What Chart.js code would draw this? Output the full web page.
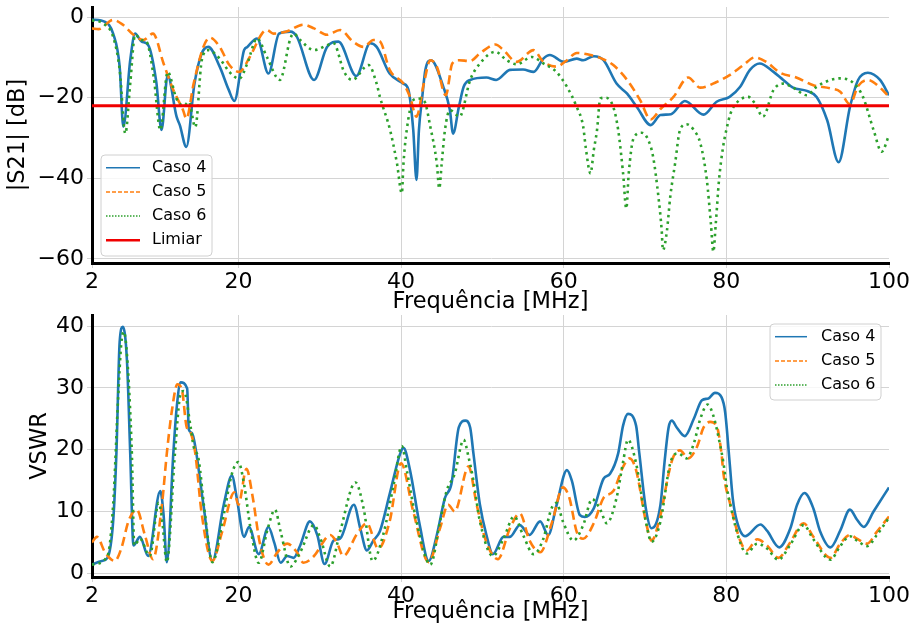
<!DOCTYPE html>
<html>
<head>
<meta charset="utf-8">
<script src="https://cdn.jsdelivr.net/npm/chart.js@4.4.0/dist/chart.umd.min.js"></script>
<style>
  body { margin: 0; background: #fff; }
  canvas { position: absolute; left: 0; }
  #s21 { top: 0; }
  #vswr { top: 314px; }
</style>
</head>
<body>
<canvas id="s21" width="913" height="314"></canvas>
<canvas id="vswr" width="913" height="314"></canvas>
<script>
// ticks
var xTicks = [2, 20, 40, 60, 80, 100];
var s21Ticks = [-60, -40, -20, 0];
var vswrTicks = [0, 10, 20, 30, 40];
var limiar = -22;

// |S21| [dB], [MHz, dB]
var s21Caso4 = [[2,-0.6],[3.6,-1.2],[4.6,-4.1],[5.4,-12.3],[5.85,-27.2],[6.7,-10.7],[7.3,-4.1],[8.1,-6.1],[8.9,-6.9],[9.9,-16],[10.55,-28],[11.3,-14.5],[12.4,-24.7],[12.8,-26.8],[13.6,-32.2],[14.6,-16.5],[15.5,-9],[16.3,-7.4],[17.7,-12.3],[18.8,-18],[19.5,-20.8],[20.7,-8.2],[21.1,-7.4],[22.3,-5.3],[23.7,-14],[25,-4.1],[26.4,-3.6],[27.2,-4.9],[29.3,-15.6],[30.9,-7.4],[32.3,-6.1],[34.5,-14.6],[36.2,-6.5],[37,-7.4],[38.6,-14],[40.3,-16.5],[40.9,-18],[41.5,-28],[41.9,-40.4],[42.2,-28],[42.6,-20],[43,-13],[43.7,-10.7],[45.2,-17.3],[46,-23],[46.4,-28.9],[47.1,-22.4],[47.7,-17.3],[48.5,-15.6],[50.5,-15],[51.7,-15.6],[53.4,-13.1],[55,-13],[56.3,-13.6],[57.5,-10.3],[58.3,-9.4],[60,-11.1],[61.6,-10.3],[62.4,-10.7],[63.7,-9.7],[64.9,-10.7],[66.5,-16.5],[67.8,-19],[69,-22.3],[70.7,-26.8],[71.9,-24.3],[73.2,-24.1],[74.9,-20.8],[77.2,-24.2],[78.8,-21],[80.4,-19.8],[81.7,-17.3],[82.9,-13.1],[84.1,-11.5],[85.8,-13.6],[87,-15.6],[88.2,-17.5],[89.9,-18.3],[91.1,-19.8],[92.4,-25.6],[93.8,-36],[95.2,-22.3],[96.2,-15.6],[97.4,-13.8],[98.9,-15.6],[100,-19.4]];
var s21Caso5 = [[2,-2.8],[2.8,-3],[4.6,-0.7],[5.8,-1.9],[7.1,-4.4],[8.3,-5.7],[9.5,-4.1],[10.8,-11.5],[12,-18.1],[13.2,-23.1],[13.6,-25.2],[14.5,-16.5],[15.7,-7.4],[16.5,-5.1],[17.7,-7.4],[18.9,-11.9],[20.1,-13.6],[21.4,-9.9],[22.9,-4.1],[23.5,-3.2],[24.3,-4.1],[25.9,-3.6],[28,-1.9],[29.3,-2.8],[30.9,-4.4],[32.5,-3.2],[34.1,-6.1],[35.4,-7.4],[36.6,-5.7],[37.4,-6],[38.6,-13.1],[40.3,-16.5],[41.1,-19.8],[41.9,-24.7],[42.8,-16.5],[43.6,-10.7],[44.4,-12.3],[45.5,-19.4],[46.3,-11.5],[47.1,-10.7],[48.5,-10.9],[49.7,-9],[51.6,-6.8],[52.6,-8.2],[54.2,-11.1],[56.3,-8.2],[57.5,-11.1],[59.1,-12.3],[60.4,-10.7],[61.6,-8.9],[63.3,-9.4],[64.9,-10.5],[66.1,-11.9],[67.8,-15.6],[69.4,-20.6],[70.7,-25.4],[71.9,-22.8],[73.5,-19.8],[75.3,-15],[76.8,-17.5],[78.8,-16.1],[80.4,-14.4],[82.1,-11.9],[83.5,-10],[84.9,-11.1],[86.6,-13.8],[88.6,-15],[90.7,-16.9],[92.8,-17.7],[94,-18.5],[95.2,-21.6],[96.2,-17.1],[97.4,-15.6],[98.9,-17.5],[100,-19.8]];
var s21Caso6 = [[2,-0.8],[3.4,-1.6],[4.6,-4.9],[5.4,-13],[6.1,-28.9],[6.7,-16.5],[7.3,-4.4],[8.1,-5.7],[8.7,-6.1],[9.6,-15],[10.4,-28],[11.3,-13.6],[12.4,-20.3],[13.3,-22],[13.9,-21],[14.7,-27.3],[15.5,-10.7],[16.3,-8.2],[17.7,-10.3],[18.9,-13.6],[20.1,-15.3],[21.1,-11.5],[22.3,-5.3],[23.5,-9.9],[25.1,-15.6],[26.4,-5.3],[26.8,-4.1],[27.6,-5.7],[29.3,-8.2],[30.9,-7],[31.7,-6.5],[33,-13.6],[34,-15.6],[36,-11.9],[37,-16.5],[37.4,-19.8],[38.65,-28],[39.5,-36.3],[40.1,-43.7],[40.3,-36.3],[40.7,-28],[41.5,-20.6],[42.1,-20.2],[42.9,-21],[43.6,-27.2],[44.4,-36.3],[44.7,-42.5],[45,-36.3],[45.4,-28],[46,-23.1],[47.2,-24.7],[48.5,-15.6],[49.7,-11.5],[51.6,-8.6],[53,-10.7],[54.2,-11.7],[56.1,-9.9],[57.5,-11.5],[59.1,-13.6],[60.4,-17.3],[61.6,-22.3],[62.4,-27.2],[62.7,-32.2],[63.3,-38.8],[63.7,-33],[64.1,-28],[64.5,-20.2],[65.2,-20],[66.1,-22.3],[66.7,-28],[67.3,-38.7],[67.7,-47.5],[68,-38.7],[68.6,-30],[69.6,-28.7],[70.4,-30.5],[71,-34.7],[71.65,-44.6],[72.05,-52.9],[72.2,-57.8],[72.7,-52.9],[73.1,-44.6],[73.7,-36.3],[74.3,-28],[75.1,-26.6],[76,-28],[76.8,-31.3],[77.6,-40.4],[78.1,-51.2],[78.4,-58.2],[78.7,-51.2],[79.1,-40.4],[79.6,-32.2],[80,-28],[80.5,-24],[81.2,-21.4],[82.7,-19.8],[83.5,-21.4],[84.5,-24.7],[85.8,-18.1],[87,-16.5],[88.2,-17.5],[89.9,-19.4],[91.1,-17.3],[92.8,-15.6],[94,-15.2],[95.6,-16.3],[96.8,-19.8],[98.1,-28],[99.1,-33.4],[100,-29.3]];

// VSWR, [MHz, VSWR]
var vswrCaso4 = [[2,1.4],[3.2,2],[3.9,2.5],[4.6,8.4],[5,19.4],[5.4,37.4],[5.8,39.9],[6.3,34.4],[6.7,19.4],[7.1,4.5],[7.9,5.9],[8.9,2.8],[10.4,13.3],[10.8,9.5],[11.2,1.8],[12,19.4],[12.4,26.6],[12.9,30.9],[13.7,29.9],[13.9,23.3],[14.3,22.7],[14.7,20.5],[15.7,11.1],[16.8,2],[18.2,11.1],[19.2,15.8],[19.8,12.2],[20.7,5.9],[21.3,7.5],[22.5,3.1],[23.7,7.5],[24.4,5],[25.2,1.7],[26,2.8],[26.8,2.5],[27.6,4.5],[28.8,8.4],[29.7,6.2],[30.6,1.5],[31.7,5.3],[32.5,5.6],[34.2,11.1],[35,7.2],[35.8,3.7],[36.6,5.3],[37.4,6.8],[38.6,12.8],[39.9,19.4],[40.3,20.3],[41.1,16.7],[42.3,7.8],[43.4,2],[44.4,6.2],[45.4,12.2],[46.2,14.5],[47.1,23.6],[47.9,24.7],[48.5,23.6],[48.9,19.4],[49.7,11.1],[50.5,6.2],[51.3,3.1],[52.6,5.9],[53.4,5.9],[54.6,7.8],[55.8,6.2],[57.1,8.4],[58.1,6.2],[59.1,10.9],[60.4,16.7],[61,15],[62,9.4],[62.6,9.1],[63.7,10.5],[64.9,15.3],[65.7,16.1],[66.7,19.4],[67.3,23.9],[67.9,25.8],[68.9,23.9],[69.3,19.4],[70.1,10.5],[70.8,7.3],[71.9,11.1],[72.4,18],[72.9,23.6],[73.3,24.7],[73.9,23.6],[74.9,22.2],[76,25],[77,28],[77.8,28.3],[78.6,29.2],[79.4,28.5],[79.85,26.1],[80.4,18],[80.8,12],[81.3,8.4],[82.3,6],[84.2,7.9],[85,6.9],[86.5,4.2],[87.85,7.2],[88.7,11.1],[89.6,13],[90.7,10.5],[91.5,6.9],[92.8,4.2],[94,6.9],[95.2,10.3],[96.05,8.7],[96.9,7.5],[98.1,10],[100,13.9]];
var vswrCaso5 = [[2,5],[2.6,5.9],[3.6,3.4],[4.8,2],[5.6,4],[6.5,8.5],[7.5,10.3],[8.5,6.2],[9.5,2.3],[10.6,11.1],[11.2,19.4],[11.8,26.1],[12.5,30.6],[13.1,29.4],[13.6,23.9],[14.2,22.5],[14.7,19.4],[15.5,9.5],[16.8,2],[18,6.7],[19.5,13.1],[20,11.1],[21,16.9],[21.7,12.8],[22.7,4.5],[23.7,1.4],[24.8,3.4],[26,4.8],[27.2,3.4],[28,1.7],[29.3,2.8],[30.9,5.9],[31.3,6.2],[32.1,5],[32.9,2.8],[34.6,6.4],[35.8,8.1],[37.2,4],[38.6,8.4],[40,17.8],[41.5,10],[43.4,1.8],[44.8,7.3],[45.8,11.1],[46.6,10],[48.3,17.3],[49.3,11.1],[50.5,5],[51.9,2.3],[53.4,7.3],[54.6,9.7],[55.8,5.3],[57.1,3.4],[58.6,8.4],[59.9,13.9],[60.7,12.2],[61.6,6.7],[62.4,5.6],[63.7,8.1],[64.9,12.2],[66.1,13.3],[67.3,17.2],[68.1,18.6],[68.9,16.7],[70.1,8.4],[70.8,5.3],[71.9,9.4],[72.9,16.1],[73.5,18.9],[74.3,19.9],[75.3,18.6],[76.4,20.5],[77.2,23.6],[78,24.5],[78.8,23.9],[79.4,19.4],[79.65,16.1],[80.5,11.1],[81.7,5.3],[82.5,3.7],[83.8,5.5],[85,4.5],[86.4,2.5],[87.85,5],[89.5,8.1],[90.7,5.9],[92.8,2.5],[94,4.8],[95.2,6.2],[96.05,5.6],[97.3,4.8],[98.5,6.7],[100,9.2]];
var vswrCaso6 = [[2,1.4],[3.9,2.8],[4.6,11.1],[5.2,28],[5.6,37.2],[5.9,39.1],[6.3,35.4],[6.9,19.4],[7.2,4.5],[7.9,5.6],[9.1,2.8],[10.2,11.4],[10.6,8.9],[11.2,1.8],[12.2,19.4],[12.9,29.1],[13.3,29.5],[14.1,23.9],[14.5,20.5],[15.1,18.5],[15.9,9.5],[16.8,1.8],[18.2,9.5],[19.2,16.1],[20,18],[20.7,14.4],[21.5,7.2],[22.5,1.7],[23.6,7.2],[24.5,10.3],[25.2,6.7],[26.4,1.1],[27.6,3.4],[29.3,7.8],[30.1,5.6],[31.3,1.1],[32.5,6.7],[34.4,14.7],[35.4,10.5],[36.5,2],[37.8,6.2],[39.1,14.4],[40.1,20.6],[40.7,16.7],[41.9,8.4],[43.6,1.4],[44.8,8.4],[45.6,13.3],[46.6,16.1],[47.7,21.6],[48.3,18.8],[48.9,15],[49.7,8.4],[51.3,2.8],[52.6,5.6],[53.9,9.2],[55,6.2],[56.3,3.1],[57.5,5.6],[58.5,10.5],[59.1,11.4],[59.9,8.4],[61.2,5.3],[62.4,7.8],[63.5,12],[64.5,10.3],[65.3,8.1],[66.5,12.2],[67.3,18],[67.9,21.6],[68.9,17.8],[70.1,8.4],[70.8,5.1],[71.9,8.4],[73.1,17.8],[74.1,19.4],[75.1,18.6],[76,21],[76.8,25],[77.7,27.3],[78.4,25.5],[79.2,21],[79.65,17.8],[80.06,13.9],[80.5,11],[81.7,5],[82.5,3.2],[83.8,4.8],[85,4],[86.4,2.2],[87.85,4.6],[89.5,7.8],[90.7,5.5],[92.8,2.2],[94,4.4],[95.2,6],[96.05,5.3],[97.3,4.4],[98.5,6.2],[100,9]];

var FONT = '"DejaVu Sans", sans-serif';

function pts(arr) {
  return arr.map(function (p) { return { x: p[0], y: p[1] }; });
}
function minus(v) {
  return v < 0 ? '\u2212' + Math.abs(v) : String(v);
}

// legend box drawn inside the plot, like matplotlib
var boxLegend = {
  id: 'boxLegend',
  afterDatasetsDraw: function (chart, args, o) {
    var ctx = chart.ctx;
    ctx.save();
    var r = 4, x = o.x, y = o.y, w = o.w, h = o.h;
    ctx.beginPath();
    ctx.moveTo(x + r, y);
    ctx.arcTo(x + w, y, x + w, y + h, r);
    ctx.arcTo(x + w, y + h, x, y + h, r);
    ctx.arcTo(x, y + h, x, y, r);
    ctx.arcTo(x, y, x + w, y, r);
    ctx.closePath();
    ctx.fillStyle = 'rgba(255,255,255,0.8)';
    ctx.fill();
    ctx.strokeStyle = '#d0d0d0';
    ctx.lineWidth = 1;
    ctx.stroke();
    chart.data.datasets.forEach(function (ds, i) {
      var yy = y + o.first + i * o.step;
      ctx.beginPath();
      ctx.setLineDash(o.dash[i]);
      ctx.strokeStyle = ds.borderColor;
      ctx.lineWidth = o.lw[i];
      ctx.moveTo(x + 5, yy);
      ctx.lineTo(x + o.len, yy);
      ctx.stroke();
      ctx.setLineDash([]);
      ctx.fillStyle = '#000';
      ctx.font = '16px ' + FONT;
      ctx.textBaseline = 'middle';
      ctx.fillText(ds.label, x + 51, yy);
    });
    ctx.restore();
  }
};

function xScale(titlePadBottom) {
  return {
    type: 'linear', min: 2, max: 100,
    afterBuildTicks: function (s) { s.ticks = xTicks.map(function (v) { return { value: v }; }); },
    afterFit: function (s) { s.height = 51; s.paddingLeft = 0; s.paddingRight = 0; },
    ticks: { color: '#000', font: { family: FONT, size: 22 }, padding: 1, maxRotation: 0, autoSkip: false },
    grid: {
      color: function (c) { return c.tick && c.tick.value === 100 ? 'rgba(0,0,0,0)' : '#d4d4d4'; },
      lineWidth: 1, tickLength: 5, tickColor: '#d4d4d4'
    },
    border: { display: true, color: '#000', width: 3 },
    title: { display: true, text: 'Frequência [MHz]', color: '#000', font: { family: FONT, size: 22.5 }, padding: { top: 0, bottom: titlePadBottom } }
  };
}

// titlePad puts the rotated label left of the tick labels, as matplotlib does
function yScale(min, max, ticks, label, titlePad) {
  return {
    type: 'linear', min: min, max: max,
    afterBuildTicks: function (s) { s.ticks = ticks.map(function (v) { return { value: v }; }); },
    afterFit: function (s) { s.width = 92; s.paddingTop = 0; s.paddingBottom = 0; },
    ticks: { color: '#000', font: { family: FONT, size: 22 }, padding: 3, callback: minus },
    grid: { color: '#d4d4d4', lineWidth: 1, tickLength: 5, tickColor: '#d4d4d4' },
    border: { display: true, color: '#000', width: 3 },
    title: { display: true, text: label, color: '#000', font: { family: FONT, size: 22.5 }, padding: { top: titlePad, bottom: 0 } }
  };
}

function line(label, data, color, dash, order) {
  return {
    label: label, data: pts(data), borderColor: color, backgroundColor: color,
    borderWidth: 2.6, borderDash: dash, pointRadius: 0, fill: false,
    cubicInterpolationMode: 'monotone', order: order
  };
}

new Chart(document.getElementById('s21'), {
  type: 'line',
  data: {
    datasets: [
      line('Caso 4', s21Caso4, '#1f77b4', [], 4),
      line('Caso 5', s21Caso5, '#ff7f0e', [9, 5], 3),
      line('Caso 6', s21Caso6, '#2ca02c', [2.5, 4], 2),
      {
        label: 'Limiar', data: [{ x: 2, y: limiar }, { x: 100, y: limiar }],
        borderColor: '#f00000', borderWidth: 2.8, pointRadius: 0, order: 1
      }
    ]
  },
  options: {
    responsive: false, animation: false, devicePixelRatio: 1, events: [],
    layout: { padding: { left: 0, right: 24, top: 7, bottom: 0 } },
    scales: { x: xScale(-2), y: yScale(-61, 2.5, s21Ticks, '|S21| [dB]', 5) },
    plugins: {
      legend: { display: false }, tooltip: { enabled: false },
      boxLegend: { x: 101, y: 155, w: 111, h: 101, first: 12.7, step: 24.2, len: 39,
        lw: [1.5, 1.5, 1.5, 2.5], dash: [[], [4, 2], [1.5, 1.5], []] }
    }
  },
  plugins: [boxLegend]
});

new Chart(document.getElementById('vswr'), {
  type: 'line',
  data: {
    datasets: [
      line('Caso 4', vswrCaso4, '#1f77b4', [], 3),
      line('Caso 5', vswrCaso5, '#ff7f0e', [9, 5], 2),
      line('Caso 6', vswrCaso6, '#2ca02c', [2.5, 4], 1)
    ]
  },
  options: {
    responsive: false, animation: false, devicePixelRatio: 1, events: [],
    layout: { padding: { left: 0, right: 24, top: 1, bottom: 0 } },
    scales: { x: xScale(2.5), y: yScale(-0.6, 41.8, vswrTicks, 'VSWR', 27) },
    plugins: {
      legend: { display: false }, tooltip: { enabled: false },
      boxLegend: { x: 770, y: 10, w: 111, h: 76, first: 12.7, step: 24.2, len: 37,
        lw: [1.5, 1.5, 1.5], dash: [[], [4, 2], [1.5, 1.5]] }
    }
  },
  plugins: [boxLegend]
});
</script>
</body>
</html>
